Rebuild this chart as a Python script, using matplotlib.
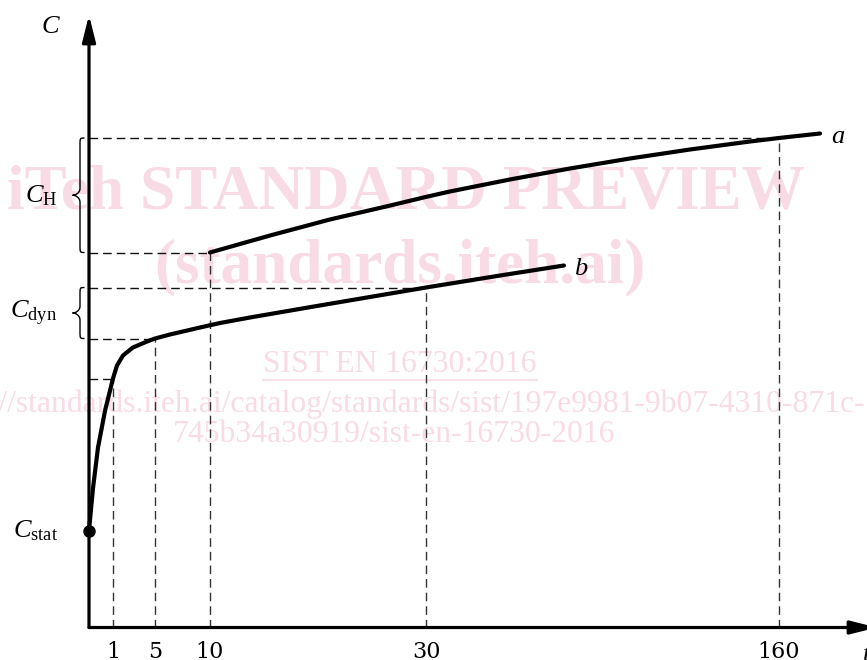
import numpy as np
import matplotlib
matplotlib.use("Agg")
import matplotlib.pyplot as plt
from matplotlib.path import Path
from matplotlib.patches import PathPatch
import matplotlib.transforms as mtrans
from matplotlib.lines import Line2D

plt.rcParams["font.family"] = ["Liberation Serif", "DejaVu Serif"]
plt.rcParams["mathtext.fontset"] = "custom"
plt.rcParams["mathtext.rm"] = "Liberation Serif"
plt.rcParams["mathtext.it"] = "Liberation Serif:italic"
plt.rcParams["mathtext.bf"] = "Liberation Serif:bold"

# ---------------- data ----------------
tick_t = [1, 5, 10, 30, 160]
tick_labels = ["1", "5", "10", "30", "160"]

curve_a_t = [10, 15.56, 21.1, 26.7, 30, 38.8, 60.9, 83.0, 105.1, 127.2, 149.3, 160, 175.1]
curve_a_c = [37.5, 39.2, 40.8, 42.2, 43.06, 43.6, 44.8, 45.9, 46.9, 47.8, 48.6, 48.95, 49.4]

curve_b_t = [0, 0.17, 0.375, 0.67, 1.0, 1.38, 1.95, 2.9, 4.24, 5.0, 6.36, 7.73, 9.09,
             10.93, 13.7, 19.35, 24.8, 30, 57.3, 80.8]
curve_b_c = [9.7, 14.0, 18.0, 21.7, 24.9, 26.2, 27.2, 28.0, 28.6, 28.9, 29.3, 29.65, 30.0,
             30.45, 31.0, 32.05, 33.05, 34.0, 35.2, 36.2]

c_stat = 9.7

# guide (dashed) lines: time and level
guide_t = [1, 5, 10, 30, 160]
guide_c = [24.9, 28.9, 37.5, 34.0, 48.95]

# braces: (low, high)
brace_h = (37.5, 48.95)
brace_dyn = (28.9, 34.0)

# ---------------- figure ----------------
W, H = 867, 660
fig = plt.figure(figsize=(W / 100, H / 100), dpi=100)
ax_left, ax_right, ax_bottom, ax_top = 89, 877, 627.5, 15
ax = fig.add_axes([ax_left / W, 1 - ax_bottom / H,
                   (ax_right - ax_left) / W, (ax_bottom - ax_top) / H])
ax.patch.set_visible(False)

# non-uniform (schematic) time axis
t_knots = [0, 1, 5, 10, 30, 160, 260]
u_knots = [0, 24, 66, 121, 337, 690, 961.5]
fwd = lambda t: np.interp(t, t_knots, u_knots)
inv = lambda u: np.interp(u, u_knots, t_knots)
ax.set_xscale("function", functions=(fwd, inv))
ax.set_xlim(0, float(inv(ax_right - ax_left)))
ax.set_ylim(0, (ax_bottom - ax_top) / 10)

for s in ax.spines.values():
    s.set_visible(False)
ax.set_xticks(tick_t, tick_labels)
ax.tick_params(axis="x", length=0, pad=9.5, labelsize=16)
for lab in ax.get_xticklabels():
    lab.set_fontfamily("DejaVu Serif")
ax.set_yticks([])

# axes with arrows
arrow_kw = dict(arrowstyle="-|>,head_length=1.6,head_width=0.4", lw=2.3,
                color="black", shrinkA=0, shrinkB=0)
ax.annotate("", xy=(1, 0), xytext=(0, 0), xycoords="axes fraction",
            arrowprops=arrow_kw, annotation_clip=False)
ax.annotate("", xy=(0, 1), xytext=(0, 0), xycoords="axes fraction",
            arrowprops=arrow_kw, annotation_clip=False)

# watermark (behind everything)
wm_color = "#f8dbe4"
fig.text(406 / W, 1 - 193 / H, "iTeh STANDARD PREVIEW", ha="center", va="center",
         fontsize=45.5, fontweight="bold", color=wm_color, zorder=-5)
fig.text(400 / W, 1 - 267 / H, "(standards.iteh.ai)", ha="center", va="center",
         fontsize=45.5, fontweight="bold", color=wm_color, zorder=-5)
sist = fig.text(400 / W, 1 - 365 / H, "SIST EN 16730:2016", ha="center", va="center",
                fontsize=22.8, color=wm_color, zorder=-5)
fig.text(397 / W, 1 - 404 / H,
         "https://standards.iteh.ai/catalog/standards/sist/197e9981-9b07-4310-871c-",
         ha="center", va="center", fontsize=22.8, color=wm_color, zorder=-5)
fig.text(394 / W, 1 - 434 / H, "745b34a30919/sist-en-16730-2016",
         ha="center", va="center", fontsize=22.8, color=wm_color, zorder=-5)
renderer = fig.canvas.get_renderer()
bb = sist.get_window_extent(renderer)
fig.add_artist(Line2D([bb.x0 / W, bb.x1 / W], [(H - 380) / H, (H - 380) / H],
                      transform=fig.transFigure, color=wm_color, lw=1.3, zorder=-5))

# dashed guides
dash = (0, (6.2, 3.6))
for t, c in zip(guide_t, guide_c):
    ax.plot([0, t], [c, c], color="#111111", lw=1.0, linestyle=dash, zorder=2)
    ax.plot([t, t], [0, c], color="#333333", lw=1.0, linestyle=dash, zorder=2)

# curves
ax.plot(curve_a_t, curve_a_c, color="black", lw=3.0, solid_capstyle="round",
        solid_joinstyle="round", zorder=4, clip_on=False)
ax.plot(curve_b_t, curve_b_c, color="black", lw=3.0, solid_capstyle="round",
        solid_joinstyle="round", zorder=4, clip_on=False)
ax.plot([0], [c_stat], "o", color="black", markersize=8, zorder=5, clip_on=False)

# curve labels
ax.annotate("$a$", xy=(curve_a_t[-1], curve_a_c[-1]), xytext=(8, -7),
            textcoords="offset points", fontsize=19, va="baseline", ha="left")
ax.annotate("$b$", xy=(curve_b_t[-1], curve_b_c[-1]), xytext=(7, -7),
            textcoords="offset points", fontsize=19, va="baseline", ha="left")

# braces
ax_w = ax_right - ax_left
btrans = mtrans.blended_transform_factory(ax.transAxes, ax.transData)


def brace(lo, hi):
    xe, xs, xt = -4.5 / ax_w, -9.0 / ax_w, -16.5 / ax_w
    r = 0.7
    mid = 0.5 * (lo + hi)
    verts = [(xe, hi), (xs, hi), (xs, hi), (xs, hi - r),
             (xs, mid + r),
             (xs, mid + 0.3 * r), (xt + 0.4 * (xs - xt), mid), (xt, mid),
             (xt + 0.4 * (xs - xt), mid), (xs, mid - 0.3 * r), (xs, mid - r),
             (xs, lo + r),
             (xs, lo), (xs, lo), (xe, lo)]
    codes = [Path.MOVETO, Path.CURVE4, Path.CURVE4, Path.CURVE4,
             Path.LINETO,
             Path.CURVE4, Path.CURVE4, Path.CURVE4,
             Path.CURVE4, Path.CURVE4, Path.CURVE4,
             Path.LINETO,
             Path.CURVE4, Path.CURVE4, Path.CURVE4]
    p = PathPatch(Path(verts, codes), transform=btrans, fill=False, lw=1.0,
                  edgecolor="black", clip_on=False)
    ax.add_patch(p)
    return mid


mid_h = brace(*brace_h)
mid_dyn = brace(*brace_dyn)

# y labels
lab_kw = dict(xycoords=("axes fraction", "data"), textcoords="offset points",
              ha="right", va="center", fontsize=19)
ax.annotate(r"$C_{\mathrm{H}}$", xy=(0, mid_h), xytext=(-32 * 0.72, 0), **lab_kw)
ax.annotate(r"$C_{\mathrm{dyn}}$", xy=(0, mid_dyn), xytext=(-32 * 0.72, 0), **lab_kw)
ax.annotate(r"$C_{\mathrm{stat}}$", xy=(0, c_stat), xytext=(-31 * 0.72, 0), **lab_kw)

fig.text(51 / W, 1 - 27 / H, "$C$", ha="center", va="center", fontsize=19)
fig.text(862 / W, 1 - 655 / H, "$t$", ha="left", va="center", fontsize=19)

fig.savefig("out.png", dpi=100)
